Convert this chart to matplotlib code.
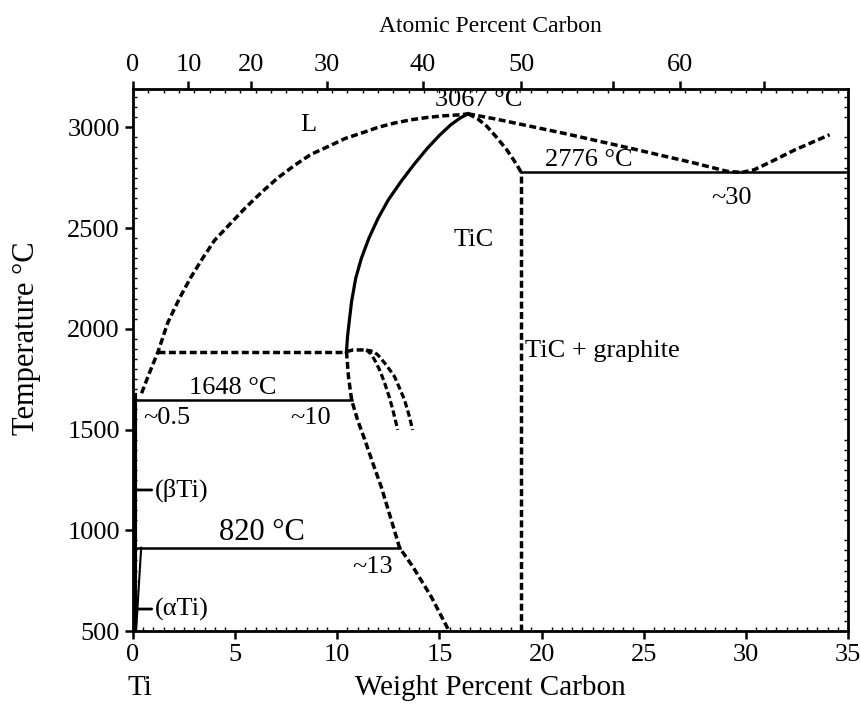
import numpy as np
import matplotlib.pyplot as plt

plt.rcParams['font.family'] = ['Liberation Serif', 'DejaVu Serif']

# phase boundaries (wt% C, temperature in C)
liq_left_wt = [0.42, 0.8, 1.23, 1.7, 2.28, 2.8, 3.41, 4.0, 4.71, 5.5, 6.33, 7.1, 7.95,
               8.7, 9.56, 10.4, 11.18, 12.0, 12.8, 13.6, 14.42, 15.2, 16.03, 16.4]
liq_left_T = [1680, 1780, 1887, 2030, 2152, 2250, 2350, 2440, 2516, 2600, 2681, 2750, 2814,
              2865, 2905, 2945, 2971, 3000, 3021, 3037, 3049, 3057, 3062, 3067]

liq_right_wt = [16.4, 17.8, 21.05, 24.3, 27.5, 29.1, 29.8]
liq_right_T = [3067, 3040, 2971, 2897, 2822, 2781, 2776]

hyper_wt = [29.8, 30.4, 31.25, 32.4, 34.1]
hyper_T = [2776, 2789, 2830, 2888, 2963]

tic_left_wt = [10.45, 10.5, 10.6, 10.7, 10.9, 11.18, 11.55, 12.0, 12.5, 13.12, 13.75,
               14.42, 15.0, 15.55, 16.0, 16.4]
tic_left_T = [1887, 1960, 2050, 2135, 2250, 2350, 2450, 2549, 2640, 2731, 2815,
              2897, 2960, 3012, 3045, 3067]

tic_top_wt = [16.4, 16.9, 17.33, 17.8, 18.3, 18.79, 19.0]
tic_top_T = [3067, 3040, 3004, 2950, 2888, 2814, 2776]

tic_low_wt = [10.45, 10.55, 10.7, 11.0, 11.35, 11.75, 12.15, 12.6, 13.05, 13.7, 14.6, 15.47]
tic_low_T = [1887, 1760, 1647, 1545, 1448, 1330, 1216, 1065, 913, 819, 670, 500]

hump_wt = [10.45, 10.78, 11.42]
hump_T = [1887, 1895, 1895]
inner_wt = [11.42, 11.65, 11.83, 12.1, 12.32, 12.55, 12.72, 12.96]
inner_T = [1895, 1875, 1845, 1790, 1730, 1660, 1597, 1498]
outer_wt = [11.42, 11.75, 11.99, 12.4, 12.8, 13.05, 13.29, 13.5, 13.69]
outer_T = [1895, 1888, 1870, 1820, 1763, 1705, 1647, 1575, 1498]

# isotherms: (wt start, wt end, T)
iso_1648 = (0.1, 10.7, 1647)
iso_peri = (1.23, 10.45, 1887)
iso_820 = (0.1, 13.05, 913)
iso_2776 = (19.0, 35.0, 2776)
tic_c_wt = 19.0

beta_wt = [0.12, 0.12]
beta_T = [500, 1670]
alpha_wt = [0.4, 0.15]
alpha_T = [913, 500]

# top axis: atomic percent labels and where they fall in wt%
at_labels = ['0', '10', '20', '30', '40', '50', '60']
at_pos_wt = [0, 2.71, 5.8, 9.5, 14.2, 19.0, 26.8]
at_extra_wt = [23.5, 30.9]

dash = (0, (2.0, 1.0))

fig = plt.figure(figsize=(8.61, 7.07), dpi=100)
ax = fig.add_axes([133/861, 1-631/707, 715/861, 542/707])

k = 'black'
ax.plot(liq_left_wt, liq_left_T, color=k, lw=2.5, ls=dash)
ax.plot(liq_right_wt, liq_right_T, color=k, lw=2.5, ls=dash)
ax.plot(hyper_wt, hyper_T, color=k, lw=2.5, ls=dash)
ax.plot(tic_left_wt, tic_left_T, color=k, lw=2.3)
ax.plot(tic_top_wt, tic_top_T, color=k, lw=2.5, ls=dash)
ax.plot(tic_low_wt, tic_low_T, color=k, lw=2.5, ls=dash)
ax.plot(hump_wt, hump_T, color=k, lw=2.5, ls=dash)
ax.plot(inner_wt, inner_T, color=k, lw=2.3, ls=dash)
ax.plot(outer_wt, outer_T, color=k, lw=2.3, ls=dash)
ax.plot([tic_c_wt, tic_c_wt], [500, iso_2776[2]], color=k, lw=2.5, ls=dash)

ax.plot(iso_1648[:2], [iso_1648[2]]*2, color=k, lw=1.8)
ax.plot(iso_peri[:2], [iso_peri[2]]*2, color=k, lw=2.5, ls=dash)
ax.plot(iso_820[:2], [iso_820[2]]*2, color=k, lw=1.8)
ax.plot(iso_2776[:2], [iso_2776[2]]*2, color=k, lw=1.8)

ax.plot(beta_wt, beta_T, color=k, lw=3)
ax.plot(alpha_wt, alpha_T, color=k, lw=1.5)

ax.annotate('(βTi)', xy=(0.12, 1200), xytext=(1.05, 1200), fontsize=19,
            va='center', ha='left',
            arrowprops=dict(arrowstyle='|-|,widthA=0,widthB=0.3', lw=2, color=k,
                            shrinkA=0, shrinkB=0))
ax.annotate('(αTi)', xy=(0.12, 609), xytext=(1.05, 609), fontsize=19,
            va='center', ha='left',
            arrowprops=dict(arrowstyle='|-|,widthA=0,widthB=0.3', lw=2, color=k,
                            shrinkA=0, shrinkB=0))

fs = 19
ax.text(8.6, 3012, 'L', fontsize=fs, ha='center', va='center')
ax.text(16.9, 3136, '3067 °C', fontsize=fs, ha='center', va='center')
ax.text(22.3, 2839, '2776 °C', fontsize=fs, ha='center', va='center')
ax.text(29.3, 2650, '~30', fontsize=fs, ha='center', va='center')
ax.text(16.7, 2441, 'TiC', fontsize=fs, ha='center', va='center')
ax.text(19.2, 1890, 'TiC + graphite', fontsize=fs, ha='left', va='center')
ax.text(4.9, 1706, '1648 °C', fontsize=fs, ha='center', va='center')
ax.text(1.67, 1558, '~0.5', fontsize=fs, ha='center', va='center')
ax.text(8.67, 1558, '~10', fontsize=fs, ha='center', va='center')
ax.text(6.3, 990, '820 °C', fontsize=22, ha='center', va='center')
ax.text(11.75, 818, '~13', fontsize=fs, ha='center', va='center')

ax.set_xlim(0, 35)
ax.set_ylim(500, 3190)
ax.set_xticks(np.arange(0, 36, 5))
ax.set_yticks(np.arange(500, 3001, 500))
ax.set_xticks(np.arange(0, 35.01, 0.5), minor=True)
ax.set_yticks(np.arange(500, 3190, 50), minor=True)
ax.tick_params(which='major', direction='out', length=6, width=1.8, labelsize=19)
ax.tick_params(which='minor', direction='in', length=3, width=1)
ax.tick_params(axis='both', which='both', right=True)
ax.tick_params(axis='y', which='major', right=False)
for s in ax.spines.values():
    s.set_linewidth(2)

ax.set_xlabel('Weight Percent Carbon', fontsize=21, labelpad=6)
ax.set_ylabel('Temperature °C', fontsize=22)
ax.yaxis.set_label_coords(-0.128, 0.54)
fig.text(140/861, 1-688/707, 'Ti', fontsize=21, ha='center', va='center')

top = ax.twiny()
top.set_xlim(ax.get_xlim())
top.set_xticks(at_pos_wt + at_extra_wt)
top.set_xticklabels(at_labels + ['', ''])
top.set_xticks(np.arange(0, 35.01, 0.75), minor=True)
top.tick_params(which='major', direction='out', length=6, width=1.8, labelsize=19)
top.tick_params(which='minor', direction='in', length=3, width=1)
top.set_xlabel('Atomic Percent Carbon', fontsize=17, labelpad=16)

fig.savefig('out.png', dpi=100)
